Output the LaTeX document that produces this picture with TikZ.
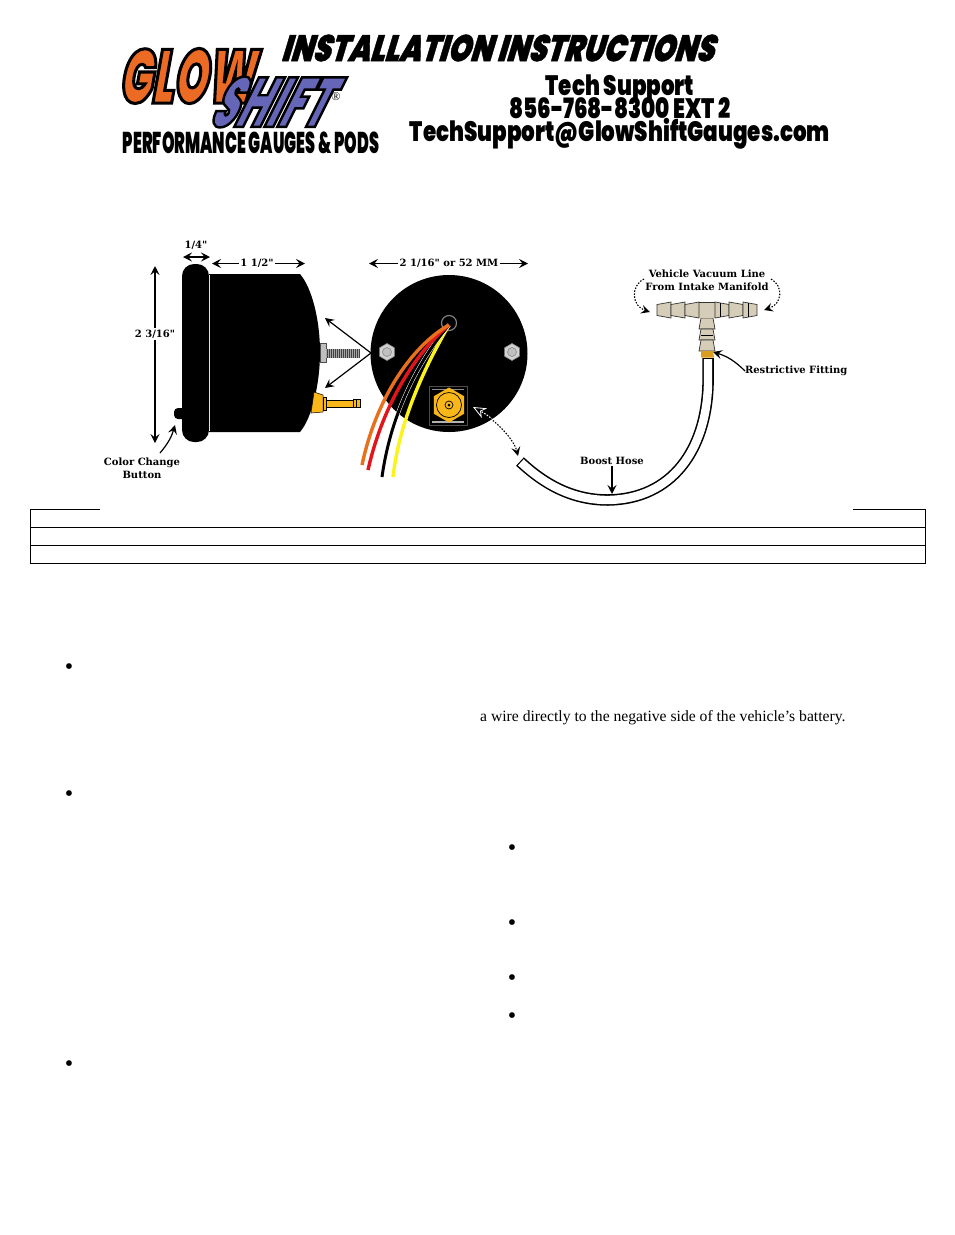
\documentclass[tikz,border=0pt]{standalone}
\usepackage{fontspec}
\usepackage{xcolor}
\usetikzlibrary{arrows.meta,shapes.geometric,calc}
\setmainfont{Liberation Serif}
\newfontfamily\logofont[FakeStretch=0.565,FakeSlant=0.18,FakeBold=4]{Poppins Black}
\newfontfamily\shiftfont[FakeStretch=0.57,FakeSlant=0.5,FakeBold=3.5]{Poppins Black}
\newfontfamily\titlefont[FakeStretch=0.77,FakeSlant=0.3,FakeBold=1]{Poppins Black}
\newfontfamily\heavyfont[FakeStretch=0.765]{Poppins Black}
\newfontfamily\podsfont[FakeStretch=0.532]{Poppins Black}
\newfontfamily\labelfont{DejaVu Serif Bold}
\definecolor{fittingtan}{HTML}{D6CDB8}
\definecolor{brass}{HTML}{D99E1F}
\definecolor{portyellow}{HTML}{F9B719}
\definecolor{wireorange}{HTML}{E8701C}
\definecolor{wirered}{HTML}{E2141C}
\definecolor{wireyellow}{HTML}{FBF31A}
\tikzset{
  tag/.style={font=\labelfont\fontsize{10}{13}\selectfont,align=center,inner sep=0pt,outer sep=1.5},
  heavy/.style={font=\heavyfont\fontsize{28}{28}\selectfont,inner sep=0pt,anchor=base},
  pointer/.style={draw,line width=1.2,-{Stealth[length=9,width=9,inset=3.5]}},
  dimline/.style={draw,line width=1.2,{Stealth[length=9,width=9,inset=3.5]}-{Stealth[length=9,width=9,inset=3.5]}},
  dotline/.style={draw,line width=1.1,dash pattern=on 1.5 off 1.5,-{Stealth[length=9,width=9,inset=3.5,line width=0,round]}},
  barb/.style={fill=fittingtan,draw=black!80,line width=0.7},
  boltnut/.style={regular polygon,regular polygon sides=6,shape border rotate=90,minimum size=17,inner sep=0pt,fill=black!18,draw=black!45,line width=0.6},
  bulletmark/.style={font=\fontsize{24}{24}\selectfont,inner sep=0pt}
}
\begin{document}
\begin{tikzpicture}[x=1pt,y=-1pt]
\useasboundingbox (0,0) rectangle (954,1235);
% header
\node (title) at (497,48) [font=\titlefont\fontsize{37}{37}\selectfont,inner sep=0pt]{INSTALLATION INSTRUCTIONS};
\node (glow) at (186,76) [font=\logofont\fontsize{76}{76}\selectfont,inner sep=0pt]{\special{pdf:bcolor [0.92 0.42 0.14] [0 0 0]}GLOW\special{pdf:ecolor}};
\node (shift) at (265,102) [font=\shiftfont\fontsize{70}{70}\selectfont,inner sep=0pt]{\special{pdf:bcolor [0.40 0.40 0.72] [0 0 0]}SHIFT\special{pdf:ecolor}};
\node (reg) at (336,97) [font=\fontsize{12}{12}\selectfont,inner sep=0pt]{®};
\node (pods) at (251,153) [font=\podsfont\fontsize{30}{30}\selectfont,inner sep=0pt,anchor=base]{PERFORMANCE GAUGES \& PODS};
\node (support) at (620,95) [heavy]{Tech Support};
\node (phone) at (620,118) [heavy]{856-768-8300 EXT 2};
\node (mail) at (620,141) [heavy]{TechSupport@GlowShiftGauges.com};
% side view
\fill (209,274) -- (300,274) .. controls (312,288) and (320,320) .. (320,352) .. controls (320,384) and (312,418) .. (300,432) -- (209,432) -- cycle;
\draw[white,line width=0.8] (209.5,275) -- (209.5,431);
\fill[rounded corners=12] (182,264) rectangle (209,442);
\fill[rounded corners=4] (174,408) rectangle (186,419);
\draw[fill=black!25,draw=black!70,line width=0.8] (320,343) rectangle (326,362);
\fill[black!35] (326,349) rectangle (360,358);
\foreach \x in {327,329,...,359}{ \draw[black!75,line width=0.7] (\x,349) -- (\x,358); }
\draw[fill=portyellow,line width=0.5] (314,392) -- (323,395) -- (323,412) -- (311,413) -- cycle;
\draw[fill=portyellow,line width=0.6] (323,397) rectangle (326,410);
\draw[fill=portyellow,line width=0.7] (326,400) rectangle (353,407);
\draw[fill=portyellow,line width=0.7] (353,399.5) rectangle (360,407.5);
\draw[line width=0.7] (356,399.5) -- (356,407.5);
\coordinate (boltstip) at (371,353);
\coordinate (studend) at (325,318);
\coordinate (plugend) at (325,388);
\draw[pointer] (boltstip) -- (studend);
\draw[pointer] (boltstip) -- (plugend);
\node (quarter) at (196,245) [tag]{1/4"};
\coordinate (qa) at (183,257); \coordinate (qb) at (210,257);
\draw[dimline] (qa) -- (qb);
\node (depth) at (257,263.5) [tag]{1 1/2"};
\coordinate (da) at (212,263.5); \coordinate (db) at (305,263.5);
\draw[pointer] (depth.west) -- (da);
\draw[pointer] (depth.east) -- (db);
\node (height) at (155,334) [tag]{2 3/16"};
\coordinate (ha) at (155,266); \coordinate (hb) at (155,443);
\draw[pointer] (height.north) -- (ha);
\draw[pointer] (height.south) -- (hb);
\node (button) at (142,468) [tag]{Color Change\\Button};
\coordinate (buttonend) at (175,425);
\draw[pointer] (160,453) to[bend right=12] (buttonend);
% rear view
\fill (449,353.5) circle (78.5);
\draw[black!50,line width=1.2] (449,323) circle (7.5);
\node (boltl) at (387,352) [boltnut]{};
\node (boltr) at (512,352) [boltnut]{};
\foreach \b in {boltl,boltr}{ \draw[fill=black!25,draw=black!50,line width=0.5] (\b) circle (4.5); }
\draw[black!70,fill=black,line width=0.8] (429,386) rectangle (467,425);
\draw[black!30,line width=2] (432,422) -- (464,422);
\draw[black!45,line width=1] (432,389.5) -- (464,389.5);
\node (port) at (449,405) [regular polygon,regular polygon sides=6,shape border rotate=90,minimum size=35,inner sep=0pt,fill=portyellow]{};
\draw[line width=0.7] (port) circle (12.5);
\draw[line width=0.7] (port) circle (4);
\fill (port) circle (1.5);
\coordinate (wirein) at (449,325);
\draw[wireyellow,line width=3.4] (wirein) .. controls (430,358) and (400,415) .. (393,477);
\draw[white,line width=4] (wirein) .. controls (425,353) and (392,405) .. (382,477);
\draw[black,line width=3] (wirein) .. controls (425,353) and (392,405) .. (382,477);
\draw[wirered,line width=3.4] (wirein) .. controls (423,346) and (385,395) .. (368,470);
\draw[wireorange,line width=3.4] (wirein) .. controls (418,342) and (378,390) .. (362,465);
\node (across) at (449,263.5) [tag]{2 1/16" or 52 MM};
\coordinate (aa) at (369,263.5); \coordinate (ab) at (528,263.5);
\draw[pointer] (across.west) -- (aa);
\draw[pointer] (across.east) -- (ab);
\coordinate (hoseend) at (518,456);
\coordinate (portend) at (473,407);
\draw[dotline] (portend) .. controls (497,420) and (514,440) .. (hoseend);
\begin{scope}
\clip (449,353.5) circle (78.5);
\draw[white,line width=1.1,dash pattern=on 1.5 off 1.5,-{Stealth[length=13,width=11,inset=4,fill=black,line width=0.8]}] (hoseend) .. controls (514,440) and (497,420) .. (portend);
\end{scope}
% hose and tee
\path[draw,line width=11.5] (708,358) -- (708,385) .. controls (706,450) and (672,499) .. (608,500) .. controls (572,500) and (544,484) .. (520,461.5);
\path[draw=white,line width=8.4,shorten >=1.2pt,shorten <=1.2pt] (708,358) -- (708,385) .. controls (706,450) and (672,499) .. (608,500) .. controls (572,500) and (544,484) .. (520,461.5);
\foreach \b in {318,329,340}{ \draw[barb] (701,\b) -- (713,\b) -- (715,\b+11) -- (699,\b+11) -- cycle; }
\draw[fill=brass,draw=none] (701,351) -- (713,351) -- (714,357.5) -- (701,357.5) -- cycle;
\fill[fittingtan] (699,302) rectangle (715,318);
\foreach \a in {657,671,685}{
  \draw[barb] (\a,304.5) -- (\a+14,302) -- (\a+14,318) -- (\a,315.5) -- cycle;
}
\foreach \a in {715,729,743}{
  \draw[barb] (\a,302) -- (\a+14,304.5) -- (\a+14,315.5) -- (\a,318) -- cycle;
}
\draw[black!80,line width=0.7] (699,302) -- (715,302);
\draw[black,line width=1] (720,303) -- (720,317) (748,303) -- (748,317) (701,335) -- (713,335);
\node (vacuum) at (707,280.5) [tag]{Vehicle Vacuum Line\\From Intake Manifold};
\coordinate (teel) at (650,312);
\coordinate (teer) at (764,310);
\draw[dotline] (644,279) .. controls (630,286) and (632,306) .. (teel);
\draw[dotline] (771,279) .. controls (784,286) and (782,304) .. (teer);
\node (restrict) at (745,371) [tag,anchor=west,outer sep=0]{Restrictive Fitting};
\coordinate (fitend) at (713,352);
\draw[pointer] (restrict.west) to[bend right=14] (fitend);
\node (boost) at (612,460.5) [tag]{Boost Hose};
\coordinate (hosemid) at (612,494);
\draw[pointer] (boost.south) -- (hosemid);
% table
\draw[line width=1] (100,509.5) -- (30,509.5) -- (30,563.5) -- (925,563.5) -- (925,509.5) -- (853,509.5);
\draw[line width=1] (30,527) -- (925,527);
\draw[line width=1] (30,545.5) -- (925,545.5);
% text
\foreach \x/\y [count=\i] in {69/665,69/792,69/1062,512/846,512/921,512/976,512/1014}{
  \node (bullet\i) at (\x,\y+4) [bulletmark]{•};
}
\node (batteryline) at (480,718) [anchor=west,inner sep=0pt,font=\fontsize{15.65}{17}\selectfont]{a wire directly to the negative side of the vehicle’s battery.};
\end{tikzpicture}
\end{document}
